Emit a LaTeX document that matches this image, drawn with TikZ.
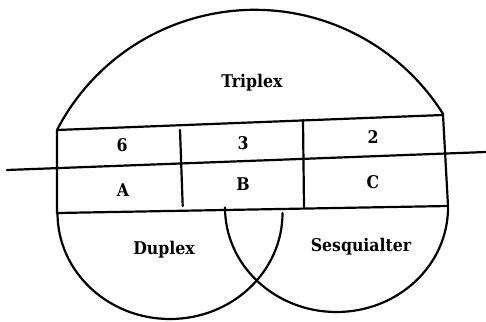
\documentclass[tikz,border=0pt]{standalone}
\usepackage{fontspec}
\setmainfont{DejaVu Serif Condensed}
\begin{document}
\begin{tikzpicture}[x=1pt,y=-1pt,
  ln/.style={line width=2.2pt,line cap=round,line join=round},
  lbl/.style={font=\fontsize{17.5}{19}\selectfont\bfseries,inner sep=0pt}]
\useasboundingbox[fill=white] (0,0) rectangle (486,321);
% corners
\coordinate (TL) at (57,130);
\coordinate (TR) at (443,115);
\coordinate (BR) at (448,206);
\coordinate (BL) at (57,213);
\coordinate (LL) at (7,170);
\coordinate (LR) at (486,152);
\coordinate (V1T) at (180,130);
\coordinate (V1B) at (182.7,206);
\coordinate (V2T) at (303,120);
\coordinate (V2B) at (304,207);
\coordinate (DL) at (57.5,213);
\coordinate (SR) at (448,207.5);
% Triplex arc
\draw[ln] (TL) arc[start angle=207.4, end angle=327.9, radius=222.6] -- (TR);
% rectangle
\draw[ln] (TL) -- (TR) -- (BR) -- (BL) -- cycle;
% through line
\draw[ln] (LL) -- (LR);
% dividers
\draw[ln] (V1T) -- (V1B);
\draw[ln] (V2T) -- (V2B);
% lower circles
\draw[ln] (DL) arc[start angle=180, end angle=0, x radius=112.5, y radius=106];
\draw[ln] (SR) arc[start angle=0, end angle=180, x radius=111.5, y radius=104.5];
% labels
\node[lbl] (triplex) at (252,83) {Triplex};
\node[lbl] (n6) at (122,145) {6};
\node[lbl] (n3) at (243,143) {3};
\node[lbl] (n2) at (373,137) {2};
\node[lbl] (A) at (123,190) {A};
\node[lbl] (B) at (243,184) {B};
\node[lbl] (C) at (373,182) {C};
\node[lbl] (duplex) at (164,250) {Duplex};
\node[lbl] (sesq) at (361,247) {Sesquialter};
\end{tikzpicture}
\end{document}
